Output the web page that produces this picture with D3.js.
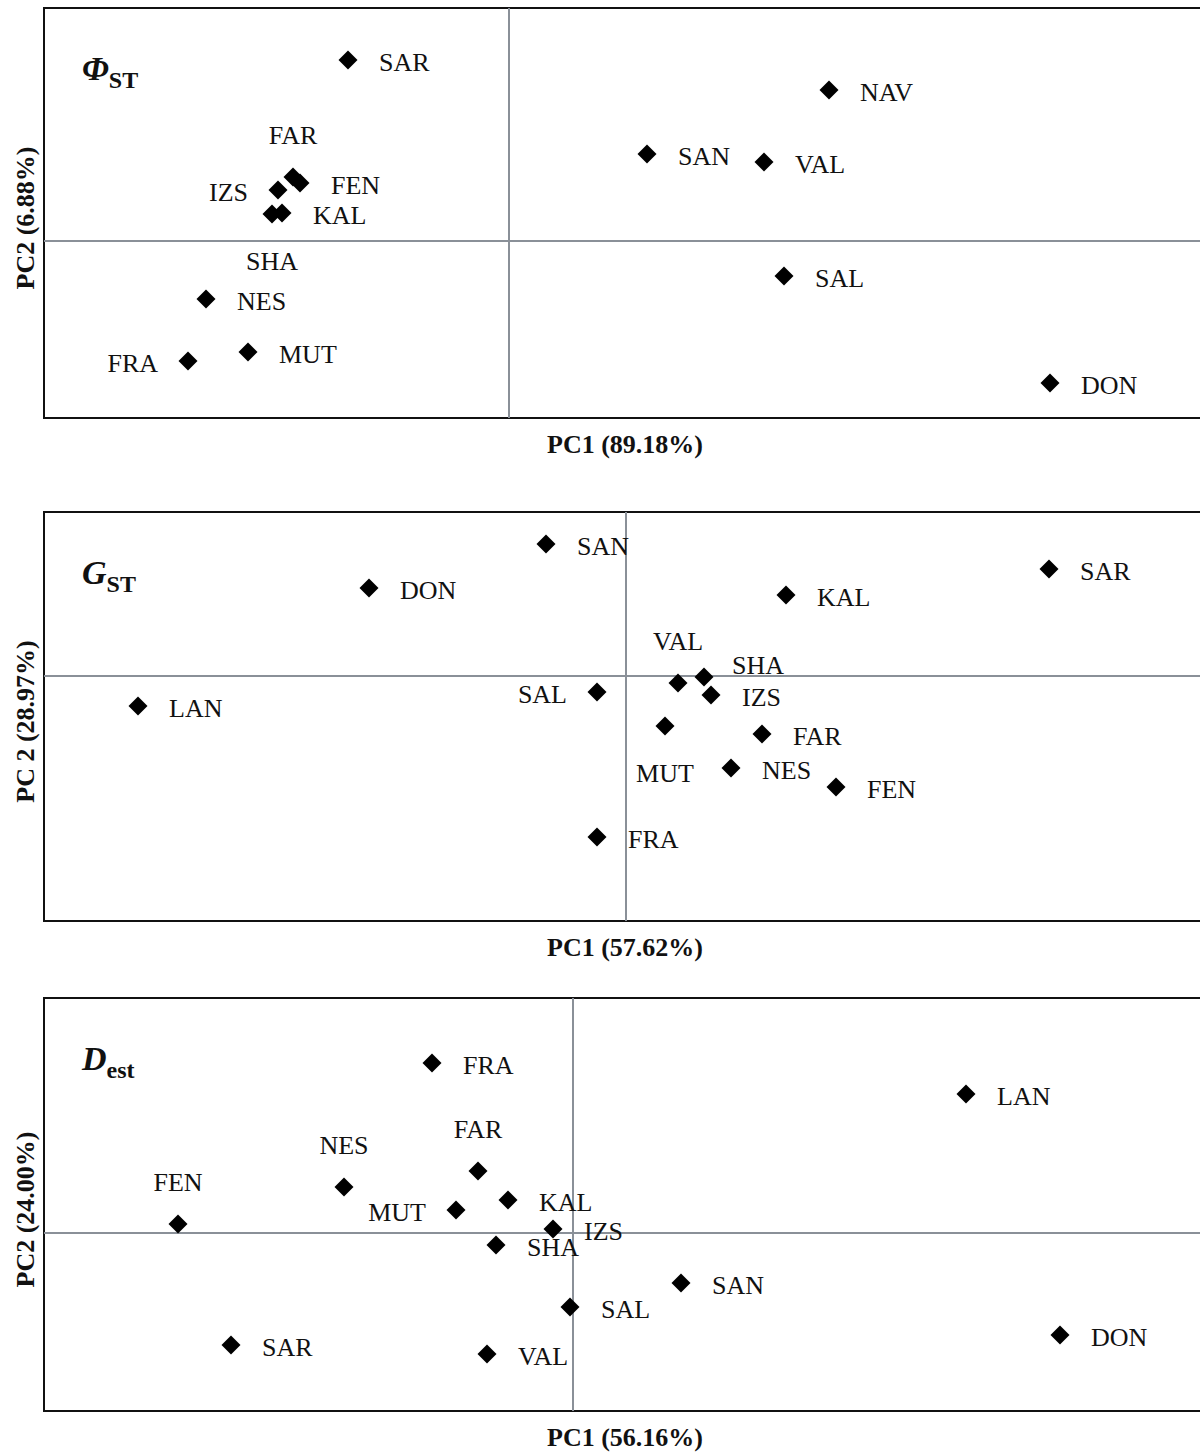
<!DOCTYPE html>
<html>
<head>
<meta charset="UTF-8">
<script src="https://cdn.jsdelivr.net/npm/d3@7"></script>
<style>
body{margin:0;background:#fff;}
text{font-family:"Liberation Serif","DejaVu Serif",serif;fill:#111;}
</style>
</head>
<body>
<script>
// population codes and PC scores per panel
var phiNames = ["SAR","NAV","SAN","VAL","FAR","FEN","IZS","KAL","SHA","NES","FRA","MUT","SAL","DON"];
var phiPC1 = [-1.61,3.20,1.38,2.55,-2.16,-2.09,-2.31,-2.27,-2.37,-3.03,-3.21,-2.61,2.75,5.41];
var phiPC2 = [1.81,1.51,0.87,0.79,0.64,0.58,0.51,0.28,0.27,-0.58,-1.20,-1.11,-0.35,-1.42];
var phiLab = ["r","r","r","r","t","r","l","r","b","r","l","r","r","r"];

var gstNames = ["SAN","DON","SAR","KAL","LAN","SAL","VAL","SHA","IZS","MUT","FAR","NES","FEN","FRA"];
var gstPC1 = [-0.80,-2.57,4.23,1.60,-4.88,-0.29,0.52,0.78,0.85,0.39,1.36,1.05,2.10,-0.29];
var gstPC2 = [1.32,0.88,1.07,0.81,-0.30,-0.16,-0.07,-0.01,-0.19,-0.50,-0.58,-0.92,-1.11,-1.61];
var gstLab = ["r","r","r","r","r","l","t","tr","r","b","r","r","r","r"];

var destNames = ["FRA","LAN","FEN","NES","FAR","MUT","KAL","IZS","SHA","SAN","SAL","SAR","VAL","DON"];
var destPC1 = [-1.41,3.93,-3.95,-2.29,-0.95,-1.17,-0.65,-0.20,-0.77,1.08,-0.03,-3.42,-0.86,4.87];
var destPC2 = [1.70,1.39,0.09,0.46,0.62,0.23,0.33,0.04,-0.12,-0.50,-0.74,-1.12,-1.21,-1.02];
var destLab = ["r","r","t","t","t","l","r","r","r","r","r","r","r","r"];

var panels = [
  {names:phiNames,x:phiPC1,y:phiPC2,lab:phiLab,top:8,h:410,xd:[-4.65,6.91],yd:[-1.77,2.33],
   xl:"PC1 (89.18%)",yl:"PC2 (6.88%)",t:"Φ",ts:"ST"},
  {names:gstNames,x:gstPC1,y:gstPC2,lab:gstLab,top:512,h:409,xd:[-5.82,5.74],yd:[-2.45,1.64],
   xl:"PC1 (57.62%)",yl:"PC 2 (28.97%)",t:"G",ts:"ST"},
  {names:destNames,x:destPC1,y:destPC2,lab:destLab,top:998,h:413,xd:[-5.29,6.27],yd:[-1.78,2.35],
   xl:"PC1 (56.16%)",yl:"PC2 (24.00%)",t:"D",ts:"est"}
];

var svg = d3.select("body").append("svg").attr("width",1200).attr("height",1452);
var left = 44, right = 1200;

panels.forEach(function(p){
  var g = svg.append("g");
  var x = d3.scaleLinear().domain(p.xd).range([left,right]);
  var y = d3.scaleLinear().domain(p.yd).range([p.top+p.h,p.top]);
  g.append("rect").attr("x",left).attr("y",p.top).attr("width",right-left+10).attr("height",p.h)
    .attr("fill","none").attr("stroke","#111").attr("stroke-width",2);
  g.append("line").attr("x1",x(0)).attr("x2",x(0)).attr("y1",p.top).attr("y2",p.top+p.h)
    .attr("stroke","#8a9098").attr("stroke-width",2);
  g.append("line").attr("x1",left).attr("x2",right).attr("y1",y(0)).attr("y2",y(0))
    .attr("stroke","#8a9098").attr("stroke-width",2);

  var t = g.append("text").attr("x",82).attr("y",p.top+72).style("font-size","34px")
    .style("font-weight","bold").style("font-style","italic");
  t.append("tspan").text(p.t);
  t.append("tspan").attr("dy",8).style("font-size","24px").style("font-style","normal").text(p.ts);

  g.append("text").attr("x",625).attr("y",p.top+p.h+35).attr("text-anchor","middle")
    .style("font-size","26px").style("font-weight","bold").text(p.xl);
  g.append("text").attr("transform","translate(34,"+(p.top+p.h/2+5)+") rotate(-90)")
    .attr("text-anchor","middle").style("font-size","26px").style("font-weight","bold").text(p.yl);

  var sym = d3.symbol().type(d3.symbolDiamond2).size(230);
  p.names.forEach(function(n,i){
    var cx = x(p.x[i]), cy = y(p.y[i]);
    g.append("path").attr("d",sym).attr("transform","translate("+cx+","+cy+")").attr("fill","#000");
    var pos = p.lab[i], tx = cx+31, ty = cy+11, anc = "start";
    if(pos==="l"){tx = cx-30; anc="end";}
    if(pos==="t"){tx = cx; ty = cy-33; anc="middle";}
    if(pos==="b"){tx = cx; ty = cy+56; anc="middle";}
    if(pos==="tr"){tx = cx+28; ty = cy-3;}
    g.append("text").attr("x",tx).attr("y",ty).attr("text-anchor",anc)
      .style("font-size","26px").text(n);
  });
});
</script>
</body>
</html>
